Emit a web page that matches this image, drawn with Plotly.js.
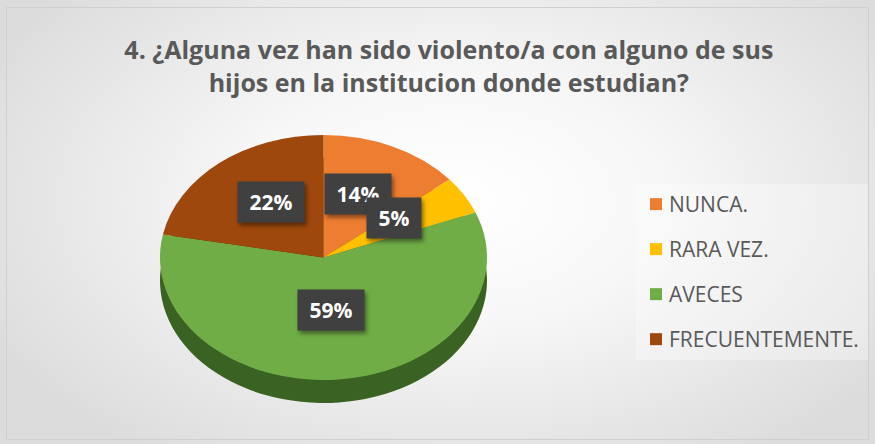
<!DOCTYPE html>
<html>
<head>
<meta charset="utf-8">
<script src="https://cdn.plot.ly/plotly-3.0.1.min.js"></script>
<style>
  html, body { margin: 0; padding: 0; background: #ffffff; }
  #wrap {
    position: absolute; left: 0; top: 0; width: 875px; height: 444px;
    background: radial-gradient(ellipse 60% 70% at 52% 45%, #ffffff 0%, #f7f7f7 40%, #dcdcdc 100%);
  }
  #frame {
    position: absolute; left: 6px; top: 7px; width: 863px; height: 433px;
    border: 1px solid #d0d0d0; box-sizing: border-box; pointer-events: none;
  }
  #chart { position: absolute; left: 0; top: 0; width: 875px; height: 444px; }
  .annotation-text-g rect.bg { filter: drop-shadow(2px 3px 2px rgba(0,0,0,0.45)); }
</style>
</head>
<body>
<div id="wrap"><div id="chart"></div><div id="frame"></div></div>
<script>
// ---- data ----
const categories = ['NUNCA.', 'RARA VEZ.', 'AVECES', 'FRECUENTEMENTE.'];
const values = [14, 5, 59, 22];
const colors = ['#ED7D31', '#FFC000', '#70AD47', '#9E480E'];
const sideColors = ['#9c4f1b', '#a87e00', '#3a6323', '#5e2a08'];
const titleText = '4. ¿Alguna vez han sido violento/a con alguno de sus<br>hijos en la institucion donde estudian?';

// ---- geometry of the pie (layout only) ----
const W = 875, H = 444;
const cx = 323.5, cy = 257.5, ry = 122.5, rx = 163.5, depth = 23;
const FONT = '"Open Sans", Lato, sans-serif';
const LEGX = 636;
const dom = (t) => ({
  x: [(cx - ry) / W, (cx + ry) / W],
  y: [1 - (t + 2 * ry) / H, 1 - t / H]
});

const sidePie = {
  type: 'pie', labels: categories, values: values, sort: false,
  direction: 'clockwise', rotation: 0,
  marker: { colors: sideColors, line: { width: 0 } },
  textinfo: 'none', hoverinfo: 'skip', showlegend: false,
  domain: dom(cy - ry + depth)
};
const topPie = {
  type: 'pie', labels: categories, values: values, sort: false,
  direction: 'clockwise', rotation: 0,
  marker: { colors: colors, line: { width: 0 } },
  textinfo: 'none', hoverinfo: 'label+percent',
  domain: dom(cy - ry)
};

// percentage labels in dark boxes, placed on each slice's bisector
const total = values.reduce((a, b) => a + b, 0);
const annotations = [];
let acc = 0;
values.forEach((v) => {
  const mid = (acc + v / 2) / total * 2 * Math.PI;
  acc += v;
  const f = 0.5;
  const px = cx + Math.sin(mid) * rx * f;
  const py = cy - 8 - Math.cos(mid) * ry * f;
  annotations.push({
    xref: 'paper', yref: 'paper', x: px / W, y: 1 - py / H,
    xanchor: 'center', yanchor: 'middle', showarrow: false,
    text: '<b>&nbsp;' + Math.round(v / total * 100) + '%&nbsp;</b>',
    font: { family: FONT, size: 21, color: '#ffffff' },
    bgcolor: '#404040', borderpad: 6
  });
});

const layout = {
  width: W, height: H,
  margin: { l: 0, r: 0, t: 0, b: 0 },
  paper_bgcolor: 'rgba(0,0,0,0)', plot_bgcolor: 'rgba(0,0,0,0)',
  title: {
    text: '<b>' + titleText + '</b>',
    x: 0.513, xanchor: 'center', y: 1 - 59 / H, yanchor: 'middle',
    font: { family: FONT, size: 25, color: '#595959' }
  },
  showlegend: true,
  legend: {
    x: LEGX / W, xanchor: 'left', y: 1 - 184 / H, yanchor: 'top',
    font: { family: FONT, size: 21, color: '#595959' },
    bgcolor: 'rgba(255,255,255,0.3)', traceorder: 'normal'
  },
  annotations: annotations
};

Plotly.newPlot('chart', [sidePie, topPie], layout, { displayModeBar: false, staticPlot: true })
.then((gd) => {
  // squash the circular pie into the reference's flat ellipse
  const pl = gd.querySelector('.pielayer');
  if (pl) pl.setAttribute('transform',
    `translate(${cx},0) scale(${rx / ry},1) translate(${-cx},0)`);
  // open up the legend rows to the reference spacing
  const gap = 45;
  const items = Array.from(gd.querySelectorAll('.legend .traces'));
  const parse = (g) => {
    const m = /translate\(\s*([-\d.]+)[ ,]+([-\d.]+)/.exec(g.getAttribute('transform') || '');
    return m ? [parseFloat(m[1]), parseFloat(m[2])] : [0, 0];
  };
  if (items.length > 1) {
    const p0 = parse(items[0]), p1 = parse(items[1]);
    const oldGap = p1[1] - p0[1];
    items.forEach((g, i) => {
      const p = parse(g);
      g.setAttribute('transform', `translate(${p[0]},${p0[1] + i * gap})`);
      const t = g.querySelector('text.legendtext');
      if (t) t.setAttribute('x', 33);
    });
    const sb = gd.querySelector('.legend .scrollbox');
    if (sb) sb.removeAttribute('clip-path');
    const bg = gd.querySelector('.legend rect.bg');
    if (bg) {
      const h = parseFloat(bg.getAttribute('height'));
      bg.setAttribute('height', h + (gap - oldGap) * (items.length - 1));
      bg.setAttribute('width', 875 - 6 - LEGX);
    }
  }
});
</script>
</body>
</html>
